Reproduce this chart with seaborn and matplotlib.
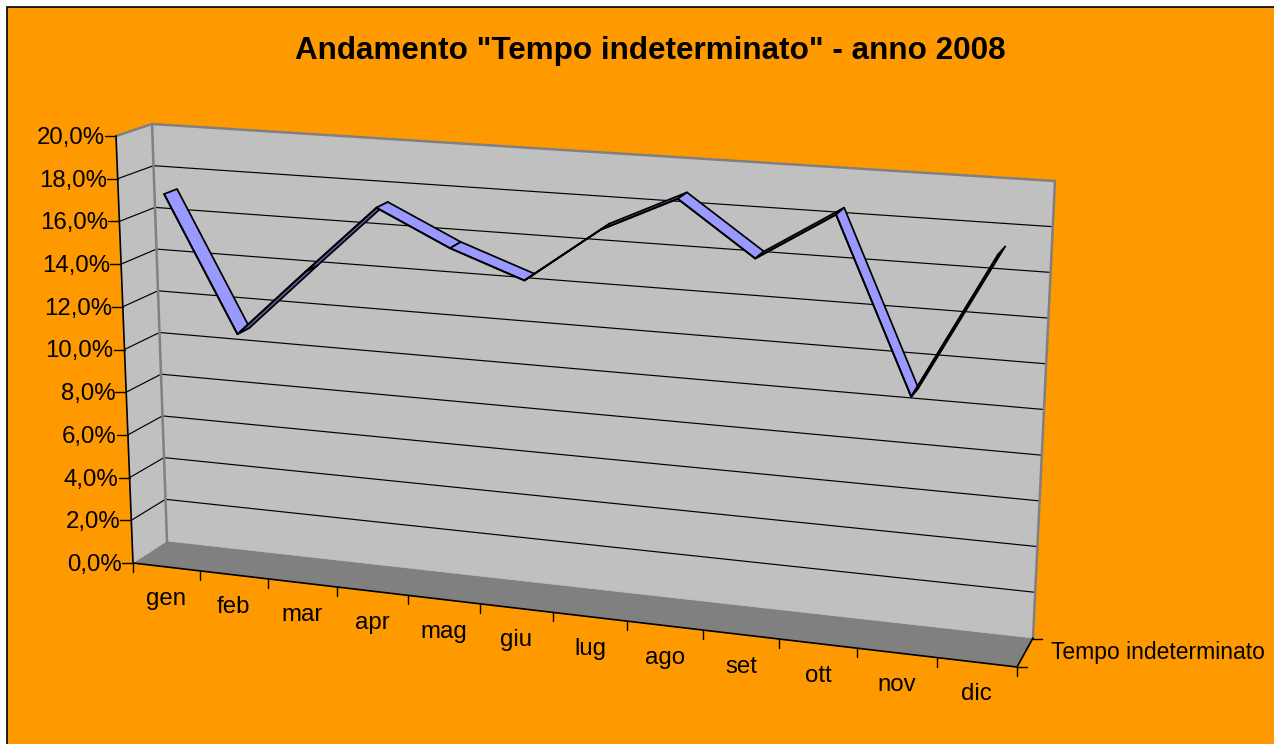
import numpy as np
import pandas as pd
import seaborn as sns
import matplotlib.pyplot as plt

months = ["gen", "feb", "mar", "apr", "mag", "giu", "lug", "ago", "set", "ott", "nov", "dic"]
values = [17.2, 10.9, 14.1, 17.3, 15.7, 14.5, 17.05, 18.7, 16.3, 18.5, 10.8, 17.3]
y_ticks = [0, 2, 4, 6, 8, 10, 12, 14, 16, 18, 20]
y_labels = ["0,0%", "2,0%", "4,0%", "6,0%", "8,0%", "10,0%", "12,0%", "14,0%", "16,0%", "18,0%", "20,0%"]
series_name = "Tempo indeterminato"
title = 'Andamento "Tempo indeterminato" - anno 2008'

ORANGE = "#FF9900"
WALL = "#C0C0C0"
FLOOR = "#808080"
RIBBON = "#9999FF"
RIBBON_DARK = "#5F5F9F"

# corners of the fake 3d box in pixels: front plane then back plane
FRONT = {"lt": (116, 136), "lb": (133, 563), "rt": (1037, 201), "rb": (1017, 667)}
BACK = {"lt": (152, 124), "lb": (167, 541), "rt": (1055, 181), "rb": (1033, 638)}
D_FRONT, D_BACK = 0.32, 0.69


def project(s, val, d=0.0):
    """s 0..1 along months, val in %, d 0 front .. 1 back -> pixel x, y"""
    u = 0.9 * s + 0.1 * s ** 2
    v = val / 20.0
    out = []
    for i in (0, 1):
        front = (FRONT["lb"][i] * (1 - u) + FRONT["rb"][i] * u) * (1 - v) + (FRONT["lt"][i] * (1 - u) + FRONT["rt"][i] * u) * v
        back = (BACK["lb"][i] * (1 - u) + BACK["rb"][i] * u) * (1 - v) + (BACK["lt"][i] * (1 - u) + BACK["rt"][i] * u) * v
        out.append(front * (1 - d) + back * d)
    return out[0], out[1]


sns.set_theme(style="white")
plt.rcParams["font.family"] = ["Liberation Sans", "DejaVu Sans"]

fig = plt.figure(figsize=(12.74, 7.44), dpi=100, facecolor="white")
ax = fig.add_axes([0, 0, 1, 1])
ax.set_xlim(0, 1274)
ax.set_ylim(744, 0)
ax.axis("off")

# chart area
ax.fill([7, 1276, 1276, 7], [7, 7, 746, 746], facecolor=ORANGE, edgecolor="black", lw=1.2, zorder=0)

# walls and floor
ax.fill(*zip(FRONT["lb"], BACK["lb"], BACK["rb"], FRONT["rb"]), color=FLOOR, lw=0.5, zorder=1)
ax.fill(*zip(FRONT["lt"], BACK["lt"], BACK["lb"], FRONT["lb"]), color=WALL, lw=0.5, zorder=1)
ax.fill(*zip(BACK["lt"], BACK["rt"], BACK["rb"], BACK["lb"]), color=WALL, lw=0.5, zorder=1)

# gridlines run along left wall then back wall
for t in y_ticks[1:-1]:
    a = project(0, t, 0)
    b = project(0, t, 1)
    c = project(1, t, 1)
    ax.plot([a[0], b[0], c[0]], [a[1], b[1], c[1]], color="black", lw=0.85, zorder=2)

# wall outlines
ax.plot(*zip(FRONT["lt"], BACK["lt"], BACK["rt"], BACK["rb"]), color="#808080", lw=1.8, zorder=3)
ax.plot(*zip(BACK["lt"], BACK["lb"]), color="#808080", lw=1.8, zorder=3)
ax.plot(*zip(FRONT["lt"], FRONT["lb"], FRONT["rb"], BACK["rb"]), color="black", lw=1.2, zorder=4)

# y axis ticks and labels
for t, lab in zip(y_ticks, y_labels):
    x, y = project(0, t, 0)
    ax.plot([x - 11, x], [y, y], color="black", lw=1.0, zorder=4)
    ax.text(x - 11, y + 2, lab, ha="right", va="center", fontsize=17.3, color="black")

# category ticks and labels
for i in range(len(months) + 1):
    x, y = project(i / len(months), 0, 0)
    ax.plot([x, x], [y, y + 9], color="black", lw=1.0, zorder=4)
for i, m in enumerate(months):
    x, y = project((i + 0.5) / len(months), 0, 0)
    ax.text(x, y + 32, m, ha="center", va="center", fontsize=17.3, color="black")

# series depth ticks
ax.plot([FRONT["rb"][0], FRONT["rb"][0] + 10], [FRONT["rb"][1]] * 2, color="black", lw=1.0, zorder=4)
ax.plot([BACK["rb"][0], BACK["rb"][0] + 9], [BACK["rb"][1] + 1] * 2, color="black", lw=1.0, zorder=4)
ax.text(1051, 653, series_name, ha="left", va="center", fontsize=16.5, color="black")

# ribbon
s_pos = (np.arange(len(months)) + 0.5) / len(months)
fx, fy = project(s_pos, np.array(values), D_FRONT)
bx, by = project(s_pos, np.array(values), D_BACK)

for i in range(len(months) - 1):
    color = RIBBON if values[i + 1] < values[i] else RIBBON_DARK
    ax.fill([fx[i], bx[i], bx[i + 1], fx[i + 1]], [fy[i], by[i], by[i + 1], fy[i + 1]],
            facecolor=color, edgecolor="black", lw=1.25, joinstyle="round", zorder=5 + i * 0.01)

front_edge = pd.DataFrame({"x": fx, "y": fy})
sns.lineplot(data=front_edge, x="x", y="y", sort=False, estimator=None, color="black", lw=1.3, zorder=6, ax=ax)
ax.set_xlim(0, 1274)
ax.set_ylim(744, 0)
ax.axis("off")

ax.text(650, 51, title, ha="center", va="center", fontsize=22.6, fontweight="bold", color="black")

fig.savefig("out.png", dpi=100)
